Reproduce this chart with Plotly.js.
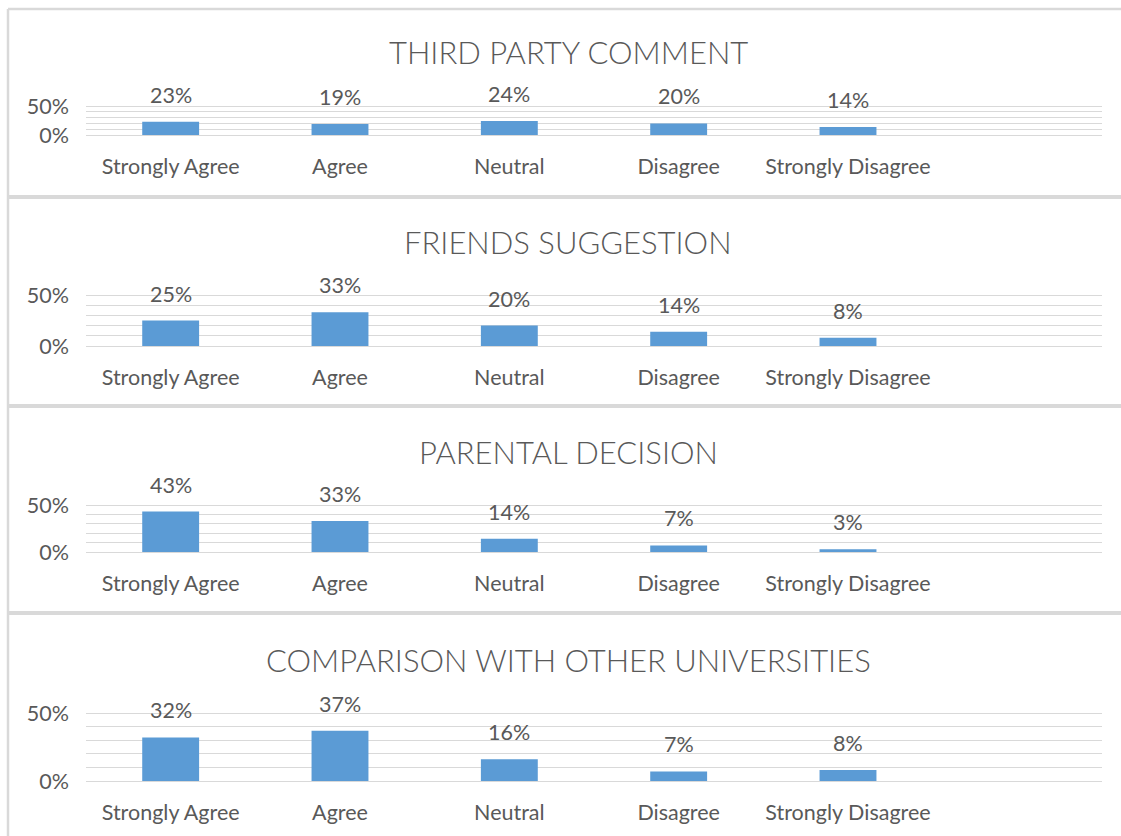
<!DOCTYPE html>
<html>
<head>
<meta charset="utf-8">
<script src="https://cdn.plot.ly/plotly-3.0.1.min.js"></script>
<style>html,body{margin:0;padding:0;background:#fff;}#chart{width:1121px;height:836px;}</style>
</head>
<body>
<div id="chart"></div>
<script>
// ---- data ----
const categories = ["Strongly Agree", "Agree", "Neutral", "Disagree", "Strongly Disagree"];
const panelTitles = ["THIRD PARTY COMMENT", "FRIENDS SUGGESTION", "PARENTAL DECISION", "COMPARISON WITH OTHER UNIVERSITIES"];
const thirdPartyComment = [0.23, 0.19, 0.24, 0.20, 0.14];
const friendsSuggestion = [0.25, 0.33, 0.20, 0.14, 0.08];
const parentalDecision = [0.43, 0.33, 0.14, 0.07, 0.03];
const comparisonUniversities = [0.32, 0.37, 0.16, 0.07, 0.08];
const yTickVals = [0, 0.1, 0.2, 0.3, 0.4, 0.5];
const yTickText = ["0%", "", "", "", "", "50%"];

const series = [thirdPartyComment, friendsSuggestion, parentalDecision, comparisonUniversities];

// ---- layout geometry (pixels) ----
const W = 1121, H = 836;
const plotLeft = 86, plotRight = 1102;
const zeroY = [135, 346, 552, 781];
const fiftyY = [106, 295, 505, 713];
const titleY = [52, 242, 452, 660];
const titleX = 568;
const fy = px => 1 - px / H;
const yMax = 0.5;
const yPad = 2; // px of headroom so the 50% gridline is not clipped

const textColor = "#595959";
const gridColor = "#d9d9d9";
const barColor = "#5b9bd5";
const fontFam = "Lato, 'Open Sans', sans-serif";

const data = [];
const annotations = [];
const layout = {
  width: W, height: H,
  margin: {l: 0, r: 0, t: 0, b: 0},
  paper_bgcolor: "#fff", plot_bgcolor: "rgba(0,0,0,0)",
  showlegend: false,
  bargap: 0.664,
  font: {family: fontFam, color: textColor, size: 21},
  annotations: annotations,
  shapes: []
};

series.forEach((vals, i) => {
  const n = i === 0 ? "" : String(i + 1);
  const pxPerUnit = (zeroY[i] - fiftyY[i]) / yMax;
  const topVal = yMax + yPad / pxPerUnit;
  data.push({
    type: "bar",
    x: categories, y: vals,
    xaxis: "x" + n, yaxis: "y" + n,
    marker: {color: barColor},
    hoverinfo: "skip"
  });
  layout["xaxis" + n] = {
    domain: [plotLeft / W, plotRight / W],
    anchor: "y" + n,
    type: "category",
    range: [-0.5, 5.5],
    showgrid: false, zeroline: false, showline: false, ticks: "",
    tickfont: {family: fontFam, size: 21.5, color: textColor},
    ticklabelstandoff: 16,
    fixedrange: true
  };
  layout["yaxis" + n] = {
    domain: [fy(zeroY[i]), fy(fiftyY[i] - yPad)],
    anchor: "x" + n,
    range: [0, topVal],
    tickmode: "array", tickvals: yTickVals, ticktext: yTickText,
    showgrid: true, gridcolor: gridColor, gridwidth: 1,
    zeroline: true, zerolinecolor: gridColor, zerolinewidth: 1,
    showline: false, ticks: "",
    tickfont: {family: fontFam, size: 21.5, color: textColor},
    ticklabelstandoff: 16,
    fixedrange: true
  };
  // data labels
  vals.forEach((v, j) => {
    annotations.push({
      xref: "x" + n, yref: "y" + n,
      x: categories[j], y: v,
      text: Math.round(v * 100) + "%",
      showarrow: false, yanchor: "bottom", yshift: 12,
      font: {family: fontFam, size: 21.5, color: textColor}
    });
  });
  // panel title
  annotations.push({
    xref: "paper", yref: "paper",
    x: titleX / W, y: fy(titleY[i]),
    xanchor: "center", yanchor: "middle",
    text: panelTitles[i], showarrow: false,
    font: {family: fontFam, size: 31, color: textColor, weight: 300}
  });
});

// panel frames
const frameColor = "#d9d9d9";
layout.shapes.push({type: "line", xref: "paper", yref: "paper", x0: 8 / W, x1: 1, y0: fy(9), y1: fy(9), line: {color: frameColor, width: 2.5}});
layout.shapes.push({type: "line", xref: "paper", yref: "paper", x0: 8 / W, x1: 8 / W, y0: fy(9), y1: 0, line: {color: frameColor, width: 2.5}});
[197, 406, 613].forEach(py => {
  layout.shapes.push({type: "line", xref: "paper", yref: "paper", x0: 8 / W, x1: 1, y0: fy(py), y1: fy(py), line: {color: frameColor, width: 4}});
});

Plotly.newPlot("chart", data, layout, {displayModeBar: false, staticPlot: true});
</script>
</body>
</html>
